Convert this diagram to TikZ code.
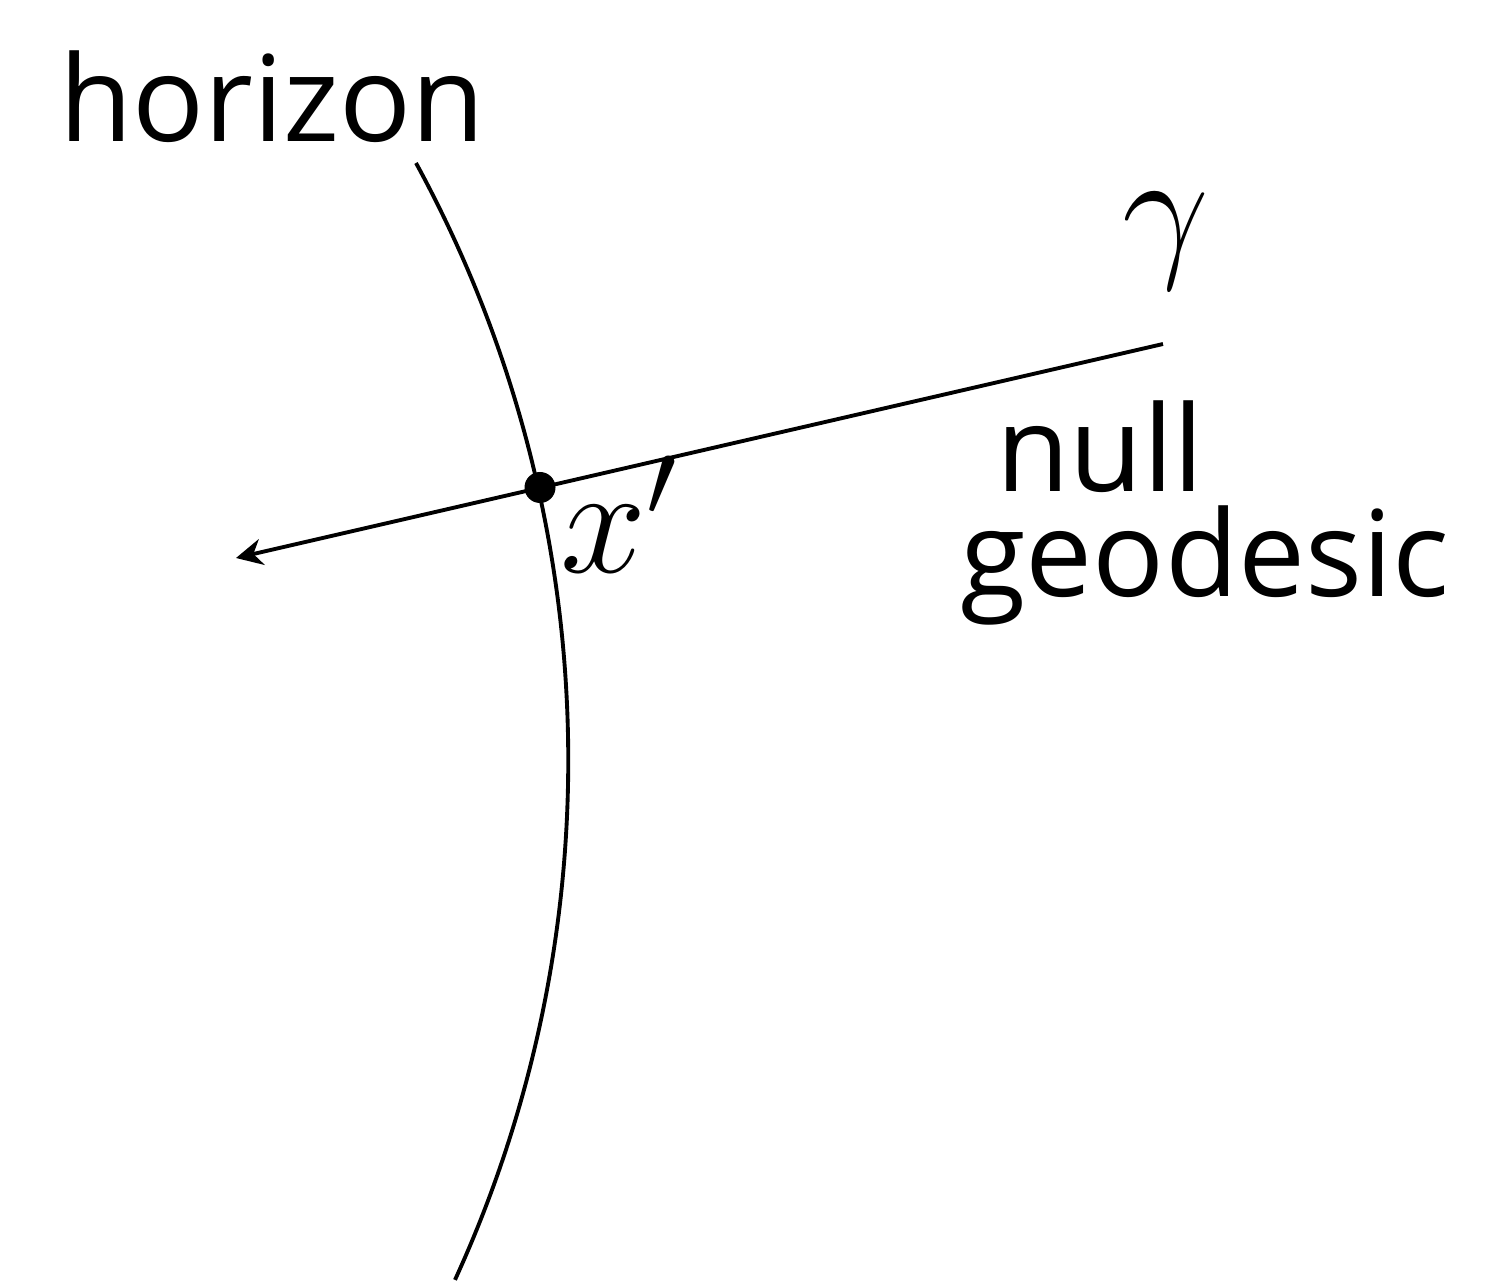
\RequirePackage{fix-cm}
\documentclass[tikz,border=0pt]{standalone}
\usepackage{fontspec}
\setmainfont{Open Sans}
\usetikzlibrary{arrows.meta,positioning}
\tikzset{
  word/.style={font=\fontsize{34}{38}\selectfont, inner sep=0pt},
  sym/.style={font=\fontsize{44}{50}\selectfont, inner sep=0pt},
  curve/.style={line width=1.1pt},
}
\begin{document}
\begin{tikzpicture}
  \useasboundingbox (0,0) rectangle (15.12,-12.82);
  % horizon
  \coordinate (htop) at (4.16,-1.63);
  \draw[curve] (htop) arc[start angle=28.6, end angle=-24.6, radius=12.48];
  \node[word, anchor=base] (horizon) at (2.72,-1.42) {horizon};
  % null geodesic through x'
  \node[circle, fill, inner sep=0pt, minimum size=0.31cm] (xp) at (5.40,-4.875) {};
  \coordinate (gend) at (11.63,-3.44);
  \coordinate (gtip) at (2.36,-5.58);
  \draw[curve, -{Stealth[length=7.5pt,width=7.5pt]}] (gend) -- (gtip);
  \node[sym, anchor=base west] (xlbl) at (5.60,-5.73) {$x'$};
  \node[sym, anchor=base] (gamma) at (11.66,-2.60) {$\gamma$};
  \node[word, anchor=base] (null) at (11.00,-4.92) {null};
  \node[word, anchor=base] (geo) at (12.05,-5.97) {geodesic};
\end{tikzpicture}
\end{document}
